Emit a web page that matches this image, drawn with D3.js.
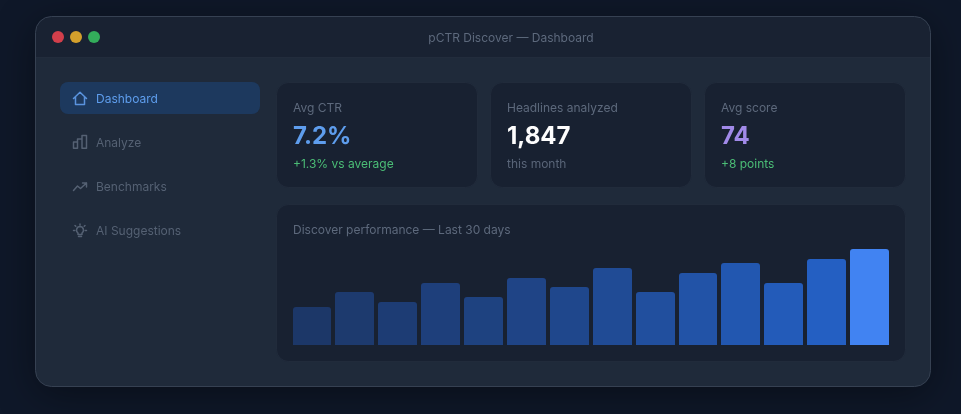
<!DOCTYPE html>
<html>
<head>
<meta charset="utf-8">
<script src="https://cdn.jsdelivr.net/npm/d3@7"></script>
<style>
html, body { margin: 0; padding: 0; background: #0f172a; overflow: hidden; }
svg { display: block; }
text { font-family: Inter, "Noto Sans", sans-serif; }
.labels { opacity: 0.995; }
</style>
</head>
<body>
<script>
const width = 961, height = 414;

const days = ["d1", "d2", "d3", "d4", "d5", "d6", "d7", "d8", "d9", "d10", "d11", "d12", "d13", "d14"];
const performance = [40, 55, 45, 65, 50, 70, 60, 80, 55, 75, 85, 65, 90, 100];
const navLabels = ["Dashboard", "Analyze", "Benchmarks", "AI Suggestions"];
const navIcons = ["home", "bars", "trend", "bulb"];
const statLabels = ["Avg CTR", "Headlines analyzed", "Avg score"];
const statValues = ["7.2%", "1,847", "74"];
const statNotes = ["+1.3% vs average", "this month", "+8 points"];
const statColors = ["#5f9fef", "#ffffff", "#a38ceb"];
const noteColors = ["#4cbf77", "#5a6679", "#4cbf77"];
const dotColors = ["#d23f4b", "#d3a02c", "#33ad5b"];

const svg = d3.select("body").append("svg")
    .attr("width", width)
    .attr("height", height);

const defs = svg.append("defs");
const shadow = defs.append("filter").attr("id", "shadow")
    .attr("color-interpolation-filters", "sRGB")
    .attr("x", "-20%").attr("y", "-30%").attr("width", "140%").attr("height", "160%");
shadow.append("feDropShadow").attr("dx", 0).attr("dy", 8).attr("stdDeviation", 20)
    .attr("flood-color", "#000").attr("flood-opacity", 0.4);
defs.append("clipPath").attr("id", "winClip").append("rect")
    .attr("x", 36).attr("y", 17).attr("width", 894).attr("height", 369).attr("rx", 15);

svg.append("rect").attr("width", width).attr("height", height).attr("fill", "#0f1829");

// window
svg.append("rect")
    .attr("x", 35.5).attr("y", 16.5).attr("width", 895).attr("height", 370).attr("rx", 16)
    .attr("fill", "#1f2a3a").attr("filter", "url(#shadow)");
const win = svg.append("g").attr("clip-path", "url(#winClip)");
win.append("rect").attr("x", 36).attr("y", 17).attr("width", 894).attr("height", 40).attr("fill", "#192232");
win.append("line").attr("x1", 36).attr("x2", 930).attr("y1", 57.5).attr("y2", 57.5).attr("stroke", "#222c3c");
svg.append("rect")
    .attr("x", 35.5).attr("y", 16.5).attr("width", 895).attr("height", 370).attr("rx", 16)
    .attr("fill", "none").attr("stroke", "#364152");

svg.selectAll(".dot").data(dotColors).join("circle")
    .attr("class", "dot")
    .attr("cx", (d, i) => 58 + i * 18)
    .attr("cy", 37)
    .attr("r", 6)
    .attr("fill", d => d);

const labels = svg.append("g").attr("class", "labels");

labels.append("text").attr("x", 511).attr("y", 41.5).attr("text-anchor", "middle")
    .attr("font-size", 12).attr("fill", "#5e6a7d")
    .text("pCTR Discover — Dashboard");

// sidebar
labels.append("rect").attr("x", 60).attr("y", 82).attr("width", 200).attr("height", 32).attr("rx", 8)
    .attr("fill", "#1e3a5f");

const iconPaths = {
    home: "M1.5 8.5 L8 2.2 L14.5 8.5 M3.5 7 V14.5 H12.5 V7",
    bars: "M1.5 14.3 V8 H5.5 V14.3 Z M5.5 14.3 V5 H10 V14.3 M10 14.3 V1.5 H14.5 V14.3 Z",
    trend: "M1.5 12.5 L5.5 8 L8.5 10.5 L14.5 5 M10.5 5 H14.5 V9",
    bulb: "M8 4.5 A3.6 3.6 0 0 1 10 11 V12.5 H6 V11 A3.6 3.6 0 0 1 8 4.5 Z M6.5 14.5 H9.5 M8 2 V3 M3 3.5 L3.8 4.3 M13 3.5 L12.2 4.3 M1.5 8.5 H2.7 M14.5 8.5 H13.3"
};

const nav = labels.selectAll(".nav").data(navLabels).join("g")
    .attr("class", "nav")
    .attr("transform", (d, i) => `translate(0,${98 + i * 44})`);
nav.append("path")
    .attr("transform", "translate(72,-8)")
    .attr("d", (d, i) => iconPaths[navIcons[i]])
    .attr("fill", "none")
    .attr("stroke", (d, i) => i == 0 ? "#5b95e0" : "#566274")
    .attr("stroke-width", 1.5)
    .attr("stroke-linejoin", "round")
    .attr("stroke-linecap", "round");
nav.append("text")
    .attr("x", 96).attr("y", 4.5)
    .attr("font-size", 12)
    .attr("fill", (d, i) => i == 0 ? "#5f9fef" : "#566274")
    .text(d => d);

// stat cards
const card = labels.selectAll(".card").data(statLabels).join("g")
    .attr("class", "card")
    .attr("transform", (d, i) => `translate(${276.5 + i * 214},82.5)`);
card.append("rect").attr("width", 201).attr("height", 105).attr("rx", 12)
    .attr("fill", "#192232").attr("stroke", "#222c3c");
card.append("text").attr("x", 16.5).attr("y", 29.5)
    .attr("font-size", 12).attr("fill", "#5e6a7d").text(d => d);
card.append("text").attr("x", 16.5).attr("y", 61.5)
    .attr("font-size", 24).attr("font-weight", 700)
    .attr("fill", (d, i) => statColors[i]).text((d, i) => statValues[i]);
card.append("text").attr("x", 16.5).attr("y", 85.5)
    .attr("font-size", 12)
    .attr("fill", (d, i) => noteColors[i]).text((d, i) => statNotes[i]);

// chart card
labels.append("rect").attr("x", 276.5).attr("y", 204.5).attr("width", 629).attr("height", 157).attr("rx", 12)
    .attr("fill", "#192232").attr("stroke", "#222c3c");
labels.append("text").attr("x", 293).attr("y", 234)
    .attr("font-size", 12).attr("fill", "#5e6a7d")
    .text("Discover performance — Last 30 days");

const x = d3.scaleBand().domain(days).range([292.5, 889]).paddingInner(0.0923);
const y = d3.scaleLinear().domain([0, 100]).range([345, 249]);
const barColor = d3.scaleLinear().domain([0, 6, 12])
    .range(["#1d3869", "#20488e", "#2560c4"]);

function barPath(d, i) {
    const x0 = Math.round(x(days[i])), x1 = Math.round(x(days[i]) + x.bandwidth());
    const top = Math.round(y(d)), r = 3;
    return `M${x0},${y(0)} V${top + r} A${r},${r} 0 0 1 ${x0 + r},${top} H${x1 - r} A${r},${r} 0 0 1 ${x1},${top + r} V${y(0)} Z`;
}

labels.selectAll(".bar").data(performance).join("path")
    .attr("class", "bar")
    .attr("d", barPath)
    .attr("fill", (d, i) => i == performance.length - 1 ? "#4285f4" : barColor(i));
</script>
</body>
</html>
